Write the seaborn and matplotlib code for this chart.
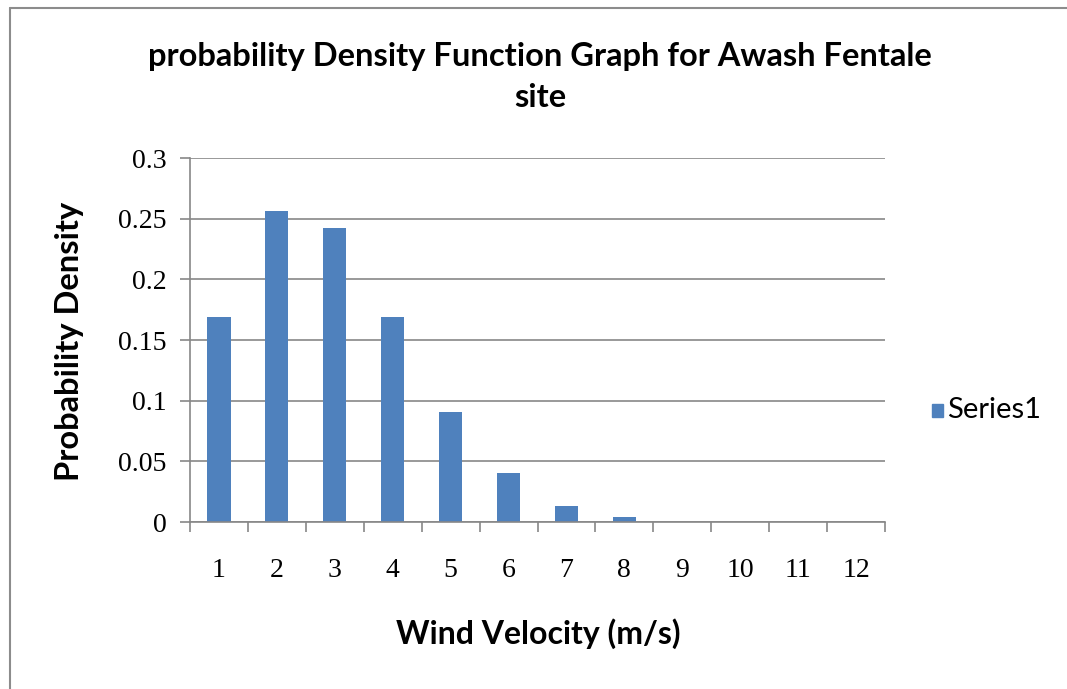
import matplotlib
matplotlib.use("Agg")
import matplotlib.pyplot as plt
from matplotlib.ticker import FixedLocator
import seaborn as sns
import pandas as pd
import numpy as np

# Wind speed bins (m/s) and their probability density
velocity = ["1", "2", "3", "4", "5", "6", "7", "8", "9", "10", "11", "12"]
density = [0.169, 0.256, 0.242, 0.169, 0.091, 0.040, 0.013, 0.004, 0.0, 0.0, 0.0, 0.0]
series_name = "Series1"

y_ticks = [0, 0.05, 0.1, 0.15, 0.2, 0.25, 0.3]
y_tick_labels = ["0", "0.05", "0.1", "0.15", "0.2", "0.25", "0.3"]

title_text = "probability Density Function Graph for Awash Fentale\nsite"
x_label = "Wind Velocity (m/s)"
y_label = "Probability Density"

df = pd.DataFrame({"velocity": velocity, "density": density, "series": series_name})

sns.set_theme(style="white")
plt.rcParams["font.family"] = ["Lato", "DejaVu Sans"]

bar_color = "#4F81BD"
grid_color = "#878787"

fig = plt.figure(figsize=(10.67, 6.89), dpi=100)
ax = fig.add_axes([190 / 1067, 1 - 522 / 689, (885 - 190) / 1067, (522 - 158) / 689])

sns.barplot(data=df, x="velocity", y="density", order=velocity, color=bar_color,
            width=0.4, ax=ax, saturation=1, errorbar=None, linewidth=0)

ax.set_xlim(-0.5, len(velocity) - 0.5)
ax.set_ylim(0, 0.3)
ax.set_yticks(y_ticks, y_tick_labels)
ax.grid(axis="y", color=grid_color, linewidth=1.2)
ax.set_axisbelow(True)

for side in ["top", "right"]:
    ax.spines[side].set_visible(False)
for side in ["left", "bottom"]:
    ax.spines[side].set_color(grid_color)
    ax.spines[side].set_linewidth(1.2)

# category boundary ticks along the x axis
ax.xaxis.set_minor_locator(FixedLocator(np.arange(-0.5, len(velocity), 1.0)))
ax.tick_params(axis="x", which="minor", length=7, width=1.2, color=grid_color, direction="out", bottom=True)
ax.tick_params(axis="x", which="major", length=0, pad=26)
ax.tick_params(axis="y", which="major", length=7, width=1.2, color=grid_color, direction="out", left=True, pad=10)

for lbl in ax.get_xticklabels() + ax.get_yticklabels():
    lbl.set_fontfamily("Liberation Serif")
    lbl.set_fontsize(20)
    lbl.set_color("black")

ax.set_xlabel("")
ax.set_ylabel("")
fig.text(538 / 1067, 1 - 634 / 689, x_label, ha="center", va="center",
         fontsize=23, fontweight="bold", color="black")
fig.text(70 / 1067, 1 - 341 / 689, y_label, ha="center", va="center", rotation=90,
         fontsize=23.5, fontweight="bold", color="black")
fig.text(540 / 1067, 1 - 77 / 689, title_text, ha="center", va="center",
         fontsize=23.5, fontweight="bold", color="black", linespacing=1.5)

# legend entry
fig.patches.append(plt.Rectangle((932 / 1067, 1 - 417 / 689), 11 / 1067, 13 / 689,
                                 transform=fig.transFigure, color=bar_color))
fig.text(947 / 1067, 1 - 410 / 689, series_name, ha="left", va="center",
         fontsize=21, color="black")

# chart frame
fig.add_artist(plt.Line2D([10 / 1067, 10 / 1067], [0, 1 - 8 / 689], transform=fig.transFigure,
                          color="#8c8c8c", linewidth=1.5))
fig.add_artist(plt.Line2D([10 / 1067, 1], [1 - 8 / 689, 1 - 8 / 689], transform=fig.transFigure,
                          color="#8c8c8c", linewidth=1.5))

fig.savefig("out.png", dpi=100, facecolor="white")
